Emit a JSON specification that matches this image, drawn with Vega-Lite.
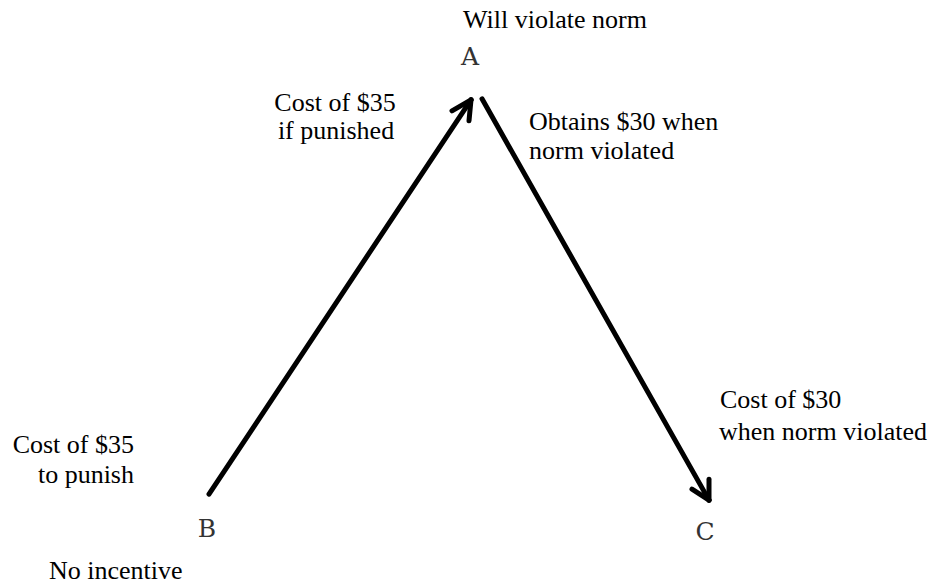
{
  "$schema": "https://vega.github.io/schema/vega-lite/v6.json",
  "width": 936,
  "height": 584,
  "autosize": {"type": "fit", "contains": "padding"},
  "padding": 0,
  "background": "white",
  "config": {"view": {"stroke": null}},
  "datasets": {
    "segments": [
      {"part": "shaft B-A", "x1": 209, "y1": 495, "x2": 471, "y2": 100},
      {"part": "head A left", "x1": 452, "y1": 111, "x2": 471, "y2": 100},
      {"part": "head A down", "x1": 469, "y1": 121, "x2": 471, "y2": 100},
      {"part": "shaft A-C", "x1": 482, "y1": 99, "x2": 709, "y2": 501},
      {"part": "head C left", "x1": 692, "y1": 490, "x2": 709, "y2": 501},
      {"part": "head C up", "x1": 709, "y1": 480, "x2": 709, "y2": 501}
    ],
    "labels": [
      {"label": "Will violate norm", "x": 555, "y": 20, "align": "center"},
      {"label": "Cost of $35", "x": 335, "y": 103, "align": "center"},
      {"label": "if punished", "x": 336, "y": 131, "align": "center"},
      {"label": "Obtains $30 when", "x": 529, "y": 122, "align": "left"},
      {"label": "norm violated", "x": 529, "y": 151, "align": "left"},
      {"label": "Cost of $30", "x": 720, "y": 401, "align": "left"},
      {"label": "when norm violated", "x": 719, "y": 433, "align": "left"},
      {"label": "Cost of $35", "x": 134, "y": 446, "align": "right"},
      {"label": "to punish", "x": 134, "y": 476, "align": "right"},
      {"label": "No incentive", "x": 49, "y": 572, "align": "left"}
    ],
    "nodes": [
      {"node": "A", "x": 470, "y": 57},
      {"node": "B", "x": 207, "y": 530},
      {"node": "C", "x": 705, "y": 533}
    ]
  },
  "layer": [
    {
      "data": {"name": "segments"},
      "mark": {"type": "rule", "color": "black", "strokeWidth": 5, "strokeCap": "round"},
      "encoding": {
        "x": {"field": "x1", "type": "quantitative", "scale": {"domain": [0, 936], "nice": false, "zero": false}, "axis": null},
        "y": {"field": "y1", "type": "quantitative", "scale": {"domain": [0, 584], "nice": false, "zero": false, "reverse": true}, "axis": null},
        "x2": {"field": "x2"},
        "y2": {"field": "y2"}
      }
    },
    {
      "data": {"name": "labels"},
      "transform": [{"filter": "datum.align == 'left'"}],
      "mark": {"type": "text", "font": "'Liberation Serif', 'Times New Roman', serif", "fontSize": 26, "color": "black", "align": "left", "baseline": "middle"},
      "encoding": {
        "x": {"field": "x", "type": "quantitative"},
        "y": {"field": "y", "type": "quantitative"},
        "text": {"field": "label"}
      }
    },
    {
      "data": {"name": "labels"},
      "transform": [{"filter": "datum.align == 'center'"}],
      "mark": {"type": "text", "font": "'Liberation Serif', 'Times New Roman', serif", "fontSize": 26, "color": "black", "align": "center", "baseline": "middle"},
      "encoding": {
        "x": {"field": "x", "type": "quantitative"},
        "y": {"field": "y", "type": "quantitative"},
        "text": {"field": "label"}
      }
    },
    {
      "data": {"name": "labels"},
      "transform": [{"filter": "datum.align == 'right'"}],
      "mark": {"type": "text", "font": "'Liberation Serif', 'Times New Roman', serif", "fontSize": 26, "color": "black", "align": "right", "baseline": "middle"},
      "encoding": {
        "x": {"field": "x", "type": "quantitative"},
        "y": {"field": "y", "type": "quantitative"},
        "text": {"field": "label"}
      }
    },
    {
      "data": {"name": "nodes"},
      "mark": {"type": "text", "font": "'DejaVu Serif', serif", "fontSize": 25, "fontWeight": "normal", "color": "#333", "align": "center", "baseline": "middle"},
      "encoding": {
        "x": {"field": "x", "type": "quantitative"},
        "y": {"field": "y", "type": "quantitative"},
        "text": {"field": "node"}
      }
    }
  ]
}
